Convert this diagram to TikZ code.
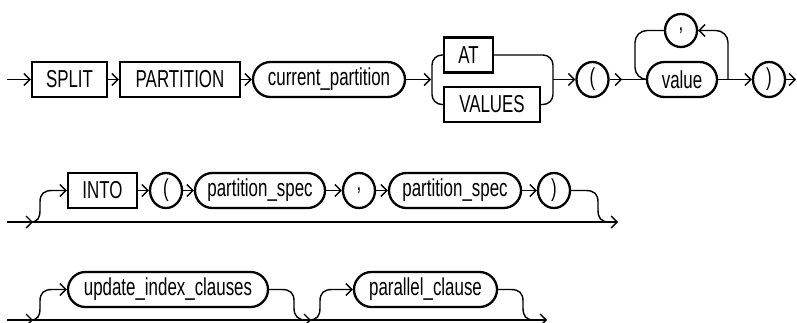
\documentclass[tikz,border=0pt]{standalone}
\usepackage{fontspec}
\newfontfamily\rrfont[FakeStretch=0.69]{Liberation Sans}
\usetikzlibrary{arrows.meta,shapes.geometric}
\begin{document}
\begin{tikzpicture}[x=1pt,y=-1pt,
  every node/.style={font=\rrfont\fontsize{24.5}{29}\selectfont, inner sep=0pt},
  kw/.style={draw, rectangle, line width=2.3pt, minimum height=35pt},
  nt/.style={draw, rectangle, rounded corners=17.5pt, line width=2.3pt, minimum height=35pt},
  sym/.style={draw, ellipse, line width=2.3pt, minimum width=32pt, minimum height=35pt},
  conn/.style={line width=1.4pt},
  arr/.style={conn, -{Straight Barb[length=6pt,width=12pt,line width=1.4pt]}}
]
\useasboundingbox (0,0) rectangle (797,322);

% ---------- Row 1 ----------
\node[kw, minimum width=75pt] (split) at (69.5,79.5) {SPLIT};
\node[kw, minimum width=120pt] (partition) at (180,79.5) {PARTITION};
\node[nt, minimum width=152pt] (curpart) at (329,79.5) {current\_partition};
\node[kw, minimum width=49pt] (at) at (468.5,55) {AT};
\node[kw, minimum width=96pt] (values) at (492,104.5) {VALUES};
\node[sym] (lp1) at (592.5,79.5) {(};
\node[sym, minimum height=33pt] (comma1) at (681,30.5) {,};
\node[nt, minimum width=70pt] (value) at (682,79.5) {value};
\node[sym] (rp1) at (769,79.5) {)};

\coordinate (r1in) at (7,79.5);
\coordinate (r1b) at (431,79.5);
\coordinate (r1c) at (553,79.5);
\coordinate (r1d) at (622,79.5);
\coordinate (r1out) at (796,79.5);

\draw[arr] (r1in) -- (split.west);
\draw[arr] (split.east) -- (partition.west);
\draw[arr] (partition.east) -- (curpart.west);
\draw[arr] (curpart.east) -- (r1b);
\draw[conn, rounded corners=10pt] (at.west) -- (432,55) -- (432,104.5) -- (values.west);
\draw[conn, rounded corners=10pt] (at.east) -- (553,55) -- (553,104.5) -- (values.east);
\draw[arr] (r1c) -- (lp1.west);
\draw[arr] (lp1.east) -- (r1d);
\draw[conn] (r1d) -- (value.west);
\draw[arr] (value.east) -- (rp1.west);
\draw[conn, rounded corners=12pt] (728,79.5) -- (728,30.5) -- (comma1.east);
\draw[arr] (712,30.5) -- (comma1.east);
\draw[conn, rounded corners=12pt] (comma1.west) -- (635,30.5) -- (635,79.5) -- (647,79.5);
\draw[arr] (rp1.east) -- (r1out);

% ---------- Row 2 ----------
\node[kw, minimum width=69pt] (into) at (102.5,190.5) {INTO};
\node[sym] (lp2) at (166,190.5) {(};
\node[nt, minimum width=130pt] (ps1) at (260,190.5) {partition\_spec};
\node[sym] (comma2) at (359,190.5) {,};
\node[nt, minimum width=132pt] (ps2) at (455,190.5) {partition\_spec};
\node[sym] (rp2) at (554,190.5) {)};

\coordinate (r2in) at (7,222);
\coordinate (r2a) at (33,222);
\coordinate (r2out) at (618,222);

\draw[arr] (r2in) -- (r2a);
\draw[arr] (r2a) -- (r2out);
\draw[arr] (30,222) .. controls (38,222) and (40,218) .. (40,210) -- (40,202)
  .. controls (40,194) and (44,190.5) .. (52,190.5) -- (into.west);
\draw[arr] (into.east) -- (lp2.west);
\draw[arr] (lp2.east) -- (ps1.west);
\draw[arr] (ps1.east) -- (comma2.west);
\draw[arr] (comma2.east) -- (ps2.west);
\draw[arr] (ps2.east) -- (rp2.west);
\draw[conn] (rp2.east) -- (586,190.5) .. controls (594,190.5) and (598,194) .. (598,202)
  -- (598,210) .. controls (598,218) and (601,222) .. (609,222);

% ---------- Row 3 ----------
\node[nt, minimum width=200pt] (uic) at (168,289.5) {update\_index\_clauses};
\node[nt, minimum width=143pt] (pc) at (425.5,289.5) {parallel\_clause};

\coordinate (r3in) at (7,320);
\coordinate (r3a) at (33,320);
\coordinate (r3b) at (311,320);
\coordinate (r3out) at (547,320);

\draw[arr] (r3in) -- (r3a);
\draw[arr] (r3a) -- (r3b);
\draw[arr] (r3b) -- (r3out);
\draw[arr] (30,320) .. controls (38,320) and (40,316) .. (40,308) -- (40,301)
  .. controls (40,293) and (44,289.5) .. (52,289.5) -- (uic.west);
\draw[conn] (uic.east) -- (282,289.5) .. controls (290,289.5) and (294,293) .. (294,301)
  -- (294,308) .. controls (294,316) and (298,320) .. (306,320);
\draw[arr] (309,320) .. controls (317,320) and (320,316) .. (320,308) -- (320,301)
  .. controls (320,293) and (324,289.5) .. (332,289.5) -- (pc.west);
\draw[conn] (pc.east) -- (511,289.5) .. controls (519,289.5) and (523,293) .. (523,301)
  -- (523,308) .. controls (523,316) and (526,320) .. (534,320);
\end{tikzpicture}
\end{document}
